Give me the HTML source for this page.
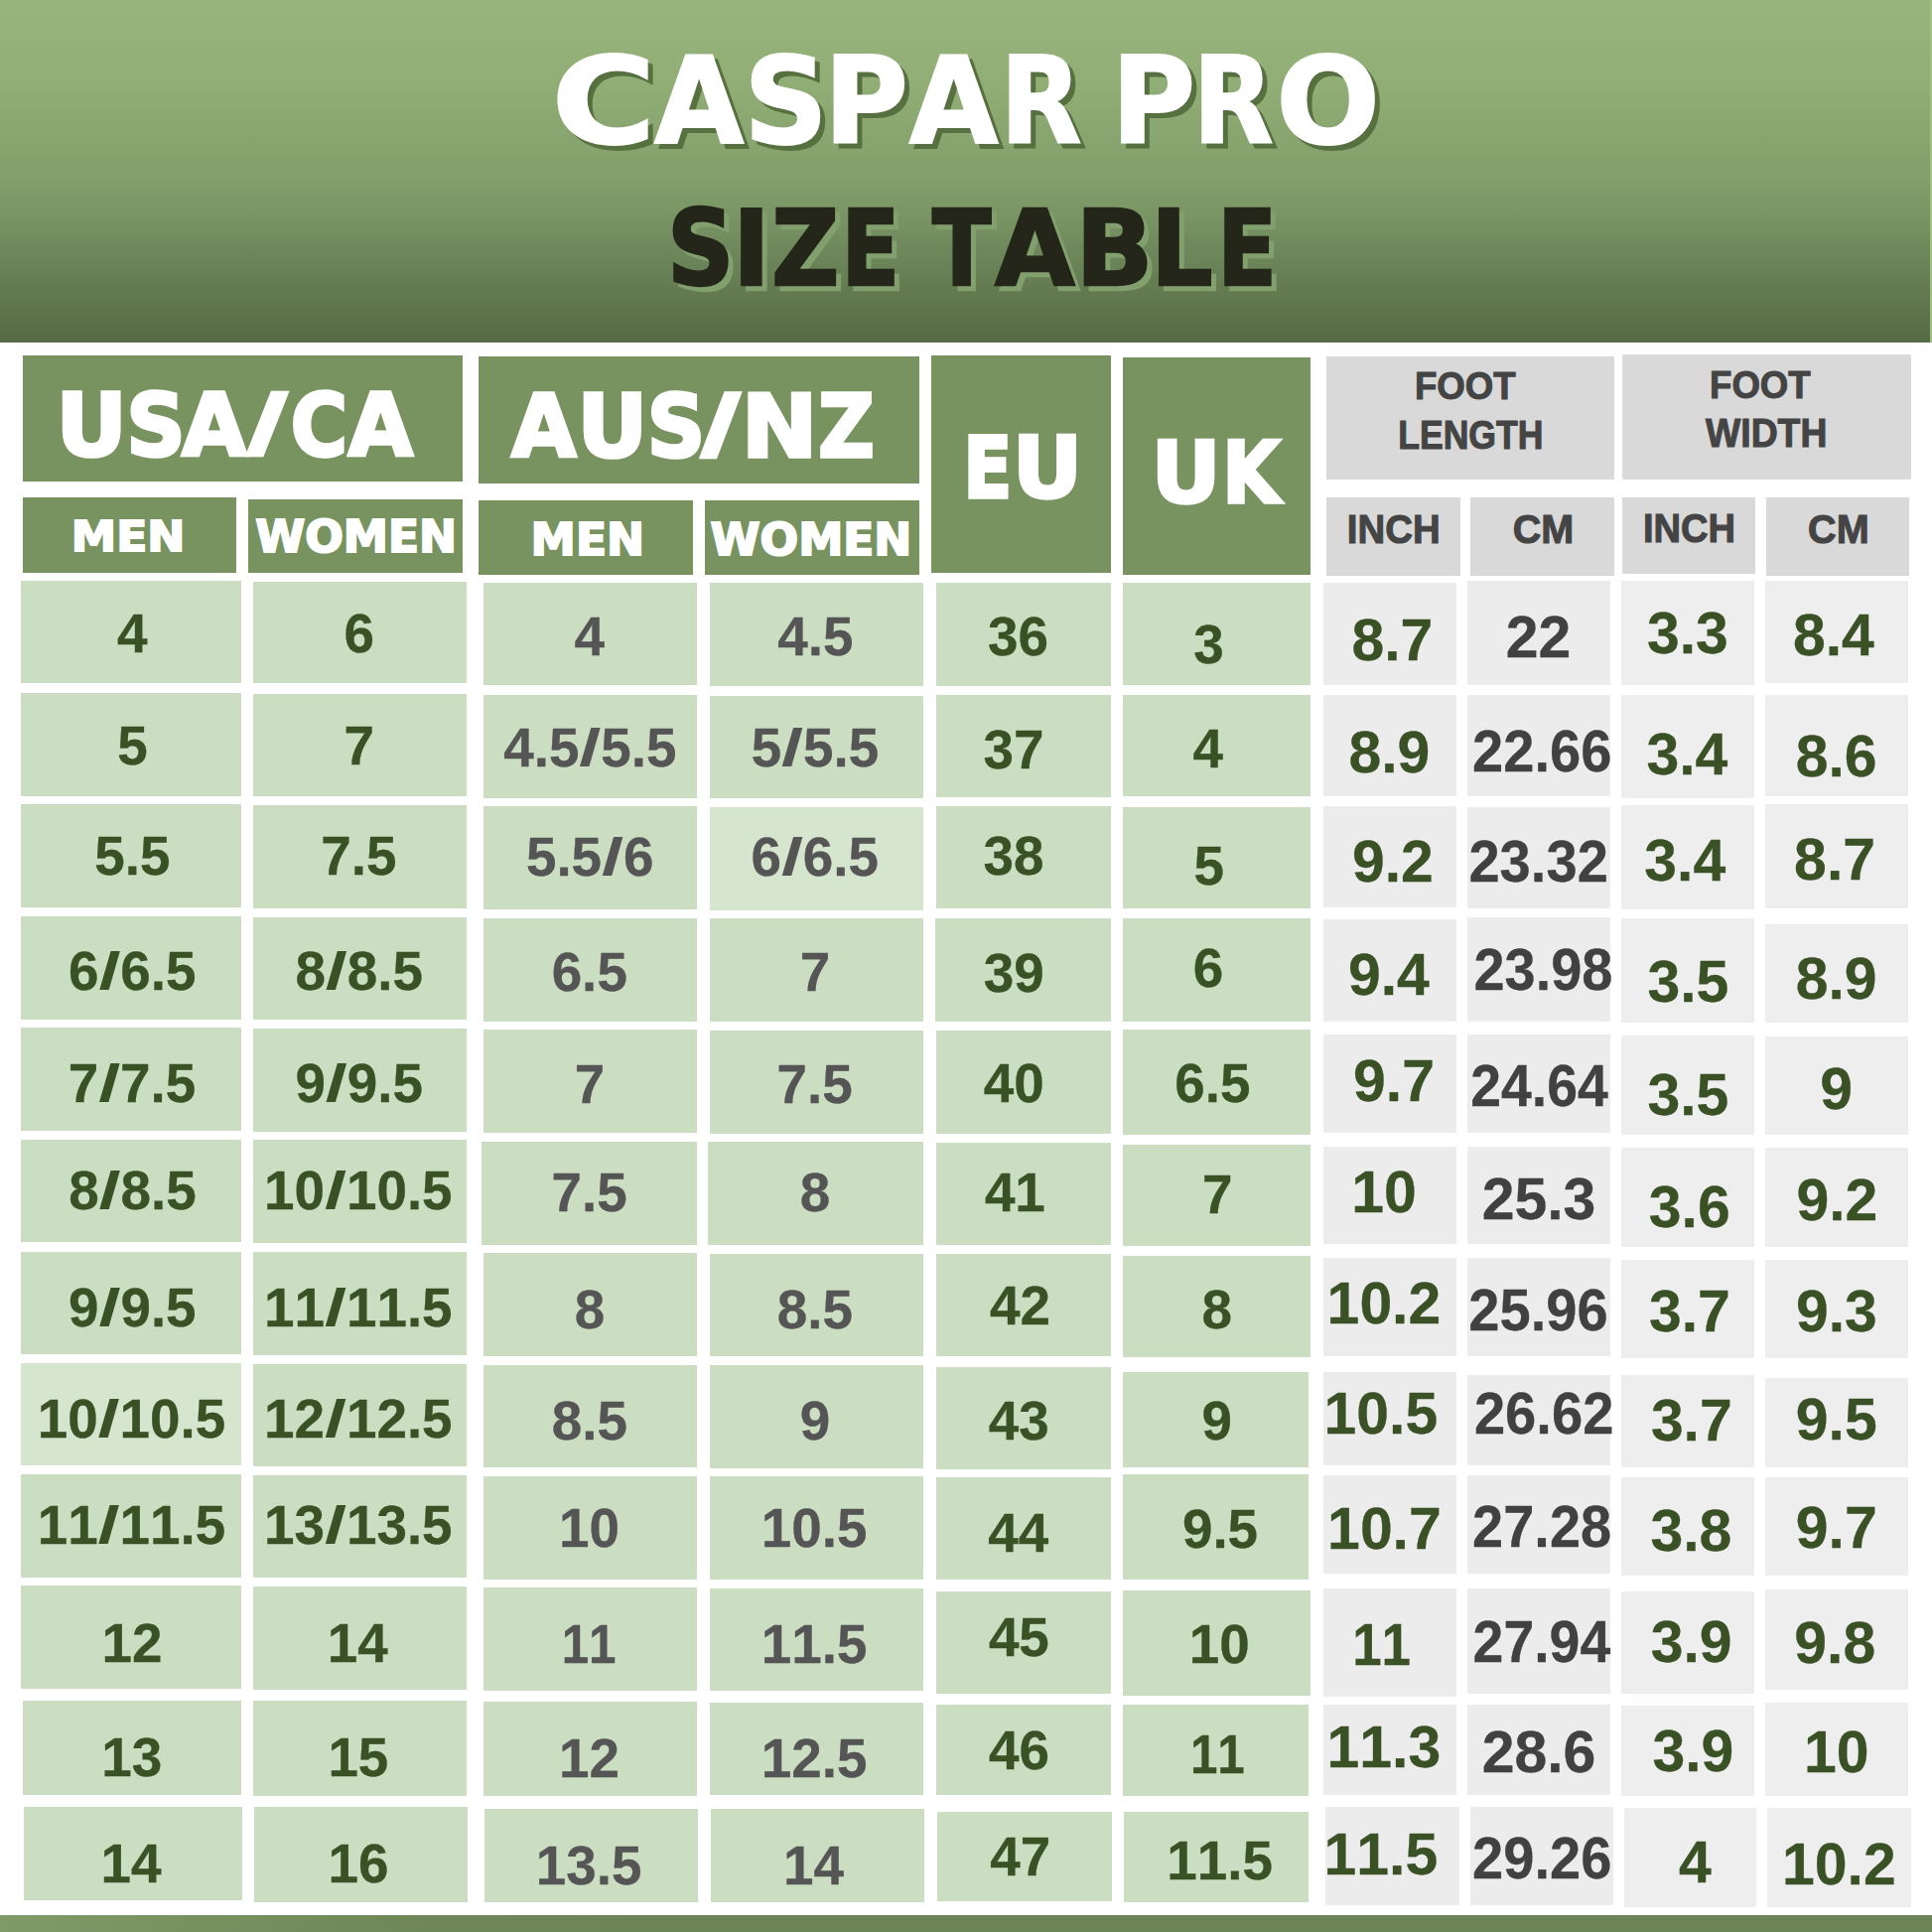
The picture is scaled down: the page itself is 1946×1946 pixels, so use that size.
<!DOCTYPE html>
<html lang="en">
<head>
<meta charset="utf-8">
<title>Caspar Pro Size Table</title>
<style>
html,body{margin:0;padding:0;background:#fff;}
body{width:1946px;height:1946px;overflow:hidden;}
#page{position:relative;width:1946px;height:1946px;background:#fff;overflow:hidden;
 font-family:"Liberation Sans",sans-serif;font-weight:700;}
#topbg{position:absolute;left:0;top:0;width:1946px;height:344.5px;background:#a2c083;}
#top{position:absolute;left:0;top:0;width:1944px;height:344.5px;
 background:linear-gradient(180deg,#97b57c 0%,#90ad75 26%,#84a06c 49%,#7a9665 62%,#6c8559 75%,#62784e 87%,#566a44 100%);}
#bot{position:absolute;left:0;top:1929.3px;width:1946px;height:17px;background:linear-gradient(90deg,#7f9b68 0,#77915f 10%,#6f8758 22%,#6c8456 35%,#6c8456 100%);}
.b{position:absolute;}
.dg{background:#78935f;}
.gh{background:#d9d9d9;}
.lg{background:#ccdec2;}
.lg2{background:#d6e5cd;}
.gc{background:#ececec;}
.gc2{background:#eeeeee;}
svg{position:absolute;left:0;top:0;}
svg text{font-family:"Liberation Sans",sans-serif;font-weight:700;font-kerning:none;white-space:pre;}
svg text.sh1{filter:drop-shadow(5.6px 5.6px 0 #57703f);}
svg text.sh2{filter:drop-shadow(5px 5px 0 #82a06e);}
svg text.dj{font-family:"DejaVu Sans","Liberation Sans",sans-serif;}
</style>
</head>
<body>
<div id="page">
<div id="topbg"></div>
<div id="top"></div>
<div class="b dg" style="left:22.8px;top:357.6px;width:443.6px;height:127.4px"></div>
<div class="b dg" style="left:482.2px;top:359.4px;width:443.8px;height:127.3px"></div>
<div class="b dg" style="left:22.8px;top:501.2px;width:215.6px;height:75.6px"></div>
<div class="b dg" style="left:250.3px;top:502.5px;width:216.1px;height:74.8px"></div>
<div class="b dg" style="left:482.2px;top:503.6px;width:215.5px;height:75.0px"></div>
<div class="b dg" style="left:710.2px;top:504.3px;width:215.8px;height:74.8px"></div>
<div class="b dg" style="left:937.7px;top:357.6px;width:181.1px;height:219.7px"></div>
<div class="b dg" style="left:1131.4px;top:360.2px;width:188.4px;height:219.2px"></div>
<div class="b gh" style="left:1336.2px;top:358.8px;width:290.0px;height:123.8px"></div>
<div class="b gh" style="left:1633.6px;top:357.2px;width:291.0px;height:125.4px;border-radius:2px"></div>
<div class="b gh" style="left:1336.2px;top:501.0px;width:134.5px;height:78.8px"></div>
<div class="b gh" style="left:1481.4px;top:501.0px;width:144.5px;height:79.4px"></div>
<div class="b gh" style="left:1634.3px;top:501.0px;width:134.1px;height:76.5px"></div>
<div class="b gh" style="left:1779.1px;top:501.0px;width:144.2px;height:78.8px"></div>
<div class="b lg" style="left:21.2px;top:584.7px;width:221.8px;height:103.3px"></div>
<div class="b lg" style="left:21.2px;top:698.0px;width:221.8px;height:103.7px"></div>
<div class="b lg" style="left:21.2px;top:810.4px;width:221.8px;height:104.0px"></div>
<div class="b lg" style="left:21.2px;top:923.0px;width:221.8px;height:103.7px"></div>
<div class="b lg" style="left:21.2px;top:1035.4px;width:221.8px;height:103.6px"></div>
<div class="b lg" style="left:21.2px;top:1147.8px;width:221.8px;height:103.6px"></div>
<div class="b lg" style="left:21.2px;top:1260.5px;width:221.8px;height:103.3px"></div>
<div class="b lg2" style="left:21.2px;top:1372.8px;width:221.8px;height:103.2px"></div>
<div class="b lg" style="left:21.2px;top:1485.0px;width:221.8px;height:104.0px"></div>
<div class="b lg" style="left:21.2px;top:1597.4px;width:221.8px;height:104.0px"></div>
<div class="b lg" style="left:22.5px;top:1712.7px;width:220.5px;height:95.3px"></div>
<div class="b lg" style="left:23.5px;top:1820.3px;width:220.0px;height:94.2px"></div>
<div class="b lg" style="left:255.0px;top:585.5px;width:215.4px;height:102.9px"></div>
<div class="b lg" style="left:255.0px;top:698.5px;width:215.4px;height:103.8px"></div>
<div class="b lg" style="left:255.0px;top:811.0px;width:215.4px;height:104.0px"></div>
<div class="b lg" style="left:255.0px;top:923.5px;width:215.4px;height:103.8px"></div>
<div class="b lg" style="left:255.0px;top:1036.0px;width:215.4px;height:103.6px"></div>
<div class="b lg" style="left:255.0px;top:1148.3px;width:215.4px;height:103.7px"></div>
<div class="b lg" style="left:255.0px;top:1261.0px;width:215.4px;height:103.5px"></div>
<div class="b lg" style="left:255.0px;top:1373.5px;width:215.4px;height:103.3px"></div>
<div class="b lg" style="left:255.0px;top:1485.9px;width:215.4px;height:103.6px"></div>
<div class="b lg" style="left:255.0px;top:1598.0px;width:215.4px;height:103.8px"></div>
<div class="b lg" style="left:255.0px;top:1713.4px;width:215.4px;height:95.6px"></div>
<div class="b lg" style="left:255.8px;top:1820.3px;width:215.2px;height:96.0px"></div>
<div class="b lg" style="left:487.2px;top:586.5px;width:214.8px;height:103.5px"></div>
<div class="b lg" style="left:487.2px;top:700.0px;width:214.8px;height:103.5px"></div>
<div class="b lg" style="left:487.2px;top:812.2px;width:214.8px;height:104.0px"></div>
<div class="b lg" style="left:487.2px;top:925.0px;width:214.8px;height:103.6px"></div>
<div class="b lg" style="left:487.2px;top:1037.2px;width:214.8px;height:103.8px"></div>
<div class="b lg" style="left:484.6px;top:1149.6px;width:217.4px;height:104.4px"></div>
<div class="b lg" style="left:487.2px;top:1262.3px;width:214.8px;height:103.3px"></div>
<div class="b lg" style="left:487.2px;top:1374.6px;width:214.8px;height:103.6px"></div>
<div class="b lg" style="left:487.2px;top:1487.0px;width:214.8px;height:104.0px"></div>
<div class="b lg" style="left:487.2px;top:1599.3px;width:214.8px;height:103.9px"></div>
<div class="b lg" style="left:487.2px;top:1714.0px;width:214.8px;height:95.4px"></div>
<div class="b lg" style="left:488.0px;top:1822.0px;width:215.0px;height:94.3px"></div>
<div class="b lg" style="left:714.7px;top:587.2px;width:215.6px;height:103.8px"></div>
<div class="b lg" style="left:714.7px;top:700.6px;width:215.6px;height:103.4px"></div>
<div class="b lg2" style="left:714.7px;top:813.0px;width:215.6px;height:103.6px"></div>
<div class="b lg" style="left:714.7px;top:925.3px;width:215.6px;height:104.0px"></div>
<div class="b lg" style="left:714.7px;top:1037.6px;width:215.6px;height:104.0px"></div>
<div class="b lg" style="left:712.5px;top:1150.3px;width:217.8px;height:103.7px"></div>
<div class="b lg" style="left:714.7px;top:1262.5px;width:215.6px;height:103.8px"></div>
<div class="b lg" style="left:714.7px;top:1375.0px;width:215.6px;height:103.5px"></div>
<div class="b lg" style="left:714.7px;top:1487.3px;width:215.6px;height:104.0px"></div>
<div class="b lg" style="left:714.7px;top:1599.6px;width:215.6px;height:103.9px"></div>
<div class="b lg" style="left:714.7px;top:1714.8px;width:215.6px;height:92.8px"></div>
<div class="b lg" style="left:715.8px;top:1822.0px;width:215.2px;height:93.6px"></div>
<div class="b lg" style="left:942.8px;top:586.5px;width:176.2px;height:104.0px"></div>
<div class="b lg" style="left:942.8px;top:700.3px;width:176.2px;height:103.2px"></div>
<div class="b lg" style="left:942.8px;top:812.2px;width:176.2px;height:103.3px"></div>
<div class="b lg" style="left:941.7px;top:925.3px;width:177.3px;height:104.0px"></div>
<div class="b lg" style="left:942.8px;top:1038.0px;width:176.2px;height:103.6px"></div>
<div class="b lg" style="left:942.8px;top:1150.6px;width:176.2px;height:103.4px"></div>
<div class="b lg" style="left:942.8px;top:1263.0px;width:176.2px;height:103.3px"></div>
<div class="b lg" style="left:942.8px;top:1377.2px;width:176.2px;height:103.2px"></div>
<div class="b lg" style="left:942.8px;top:1487.7px;width:176.2px;height:103.3px"></div>
<div class="b lg" style="left:942.8px;top:1602.9px;width:176.2px;height:103.1px"></div>
<div class="b lg" style="left:942.8px;top:1717.0px;width:176.2px;height:90.6px"></div>
<div class="b lg" style="left:943.5px;top:1824.6px;width:176.1px;height:90.4px"></div>
<div class="b lg" style="left:1131.2px;top:586.8px;width:188.4px;height:103.7px"></div>
<div class="b lg" style="left:1131.2px;top:700.3px;width:188.4px;height:101.7px"></div>
<div class="b lg" style="left:1131.2px;top:812.6px;width:188.4px;height:102.2px"></div>
<div class="b lg" style="left:1131.2px;top:925.3px;width:188.4px;height:104.0px"></div>
<div class="b lg" style="left:1131.2px;top:1037.2px;width:188.4px;height:106.2px"></div>
<div class="b lg" style="left:1131.2px;top:1152.5px;width:188.4px;height:102.1px"></div>
<div class="b lg" style="left:1131.2px;top:1265.0px;width:188.4px;height:102.4px"></div>
<div class="b lg" style="left:1131.2px;top:1381.9px;width:186.6px;height:96.0px"></div>
<div class="b lg" style="left:1131.2px;top:1485.0px;width:186.6px;height:106.0px"></div>
<div class="b lg" style="left:1131.2px;top:1602.0px;width:188.4px;height:106.0px"></div>
<div class="b lg" style="left:1131.2px;top:1717.0px;width:186.6px;height:91.7px"></div>
<div class="b lg" style="left:1132.3px;top:1824.6px;width:185.5px;height:91.7px"></div>
<div class="b gc" style="left:1333.0px;top:586.8px;width:134.1px;height:103.7px"></div>
<div class="b gc" style="left:1333.0px;top:699.6px;width:134.1px;height:102.4px"></div>
<div class="b gc" style="left:1333.0px;top:812.2px;width:134.1px;height:102.2px"></div>
<div class="b gc" style="left:1333.0px;top:926.0px;width:134.1px;height:102.6px"></div>
<div class="b gc" style="left:1333.0px;top:1042.0px;width:134.1px;height:99.0px"></div>
<div class="b gc" style="left:1333.0px;top:1155.0px;width:134.1px;height:98.2px"></div>
<div class="b gc" style="left:1333.0px;top:1266.7px;width:134.1px;height:98.9px"></div>
<div class="b gc" style="left:1333.0px;top:1381.9px;width:134.1px;height:94.1px"></div>
<div class="b gc" style="left:1333.0px;top:1486.2px;width:134.1px;height:99.3px"></div>
<div class="b gc" style="left:1333.0px;top:1600.3px;width:134.1px;height:108.4px"></div>
<div class="b gc" style="left:1333.0px;top:1717.0px;width:134.1px;height:90.6px"></div>
<div class="b gc" style="left:1335.2px;top:1820.3px;width:134.4px;height:98.9px"></div>
<div class="b gc" style="left:1478.0px;top:584.7px;width:144.2px;height:105.8px"></div>
<div class="b gc" style="left:1478.0px;top:700.0px;width:144.2px;height:102.0px"></div>
<div class="b gc" style="left:1478.0px;top:813.0px;width:144.2px;height:102.0px"></div>
<div class="b gc" style="left:1478.0px;top:923.5px;width:144.2px;height:105.1px"></div>
<div class="b gc" style="left:1478.0px;top:1042.0px;width:144.2px;height:99.0px"></div>
<div class="b gc" style="left:1478.0px;top:1155.0px;width:144.2px;height:98.2px"></div>
<div class="b gc" style="left:1478.0px;top:1266.7px;width:144.2px;height:98.9px"></div>
<div class="b gc" style="left:1478.0px;top:1384.8px;width:144.2px;height:91.2px"></div>
<div class="b gc" style="left:1478.0px;top:1486.2px;width:144.2px;height:99.3px"></div>
<div class="b gc" style="left:1478.0px;top:1600.3px;width:144.2px;height:105.7px"></div>
<div class="b gc" style="left:1478.0px;top:1717.0px;width:144.2px;height:90.6px"></div>
<div class="b gc" style="left:1480.5px;top:1820.3px;width:144.5px;height:98.9px"></div>
<div class="b gc2" style="left:1632.7px;top:584.7px;width:134.0px;height:105.8px"></div>
<div class="b gc2" style="left:1632.7px;top:700.3px;width:134.0px;height:103.7px"></div>
<div class="b gc2" style="left:1632.7px;top:810.8px;width:134.0px;height:105.4px"></div>
<div class="b gc2" style="left:1632.7px;top:925.3px;width:134.0px;height:104.7px"></div>
<div class="b gc2" style="left:1632.7px;top:1043.0px;width:134.0px;height:99.7px"></div>
<div class="b gc2" style="left:1632.7px;top:1156.0px;width:134.0px;height:99.7px"></div>
<div class="b gc2" style="left:1632.7px;top:1268.5px;width:134.0px;height:99.2px"></div>
<div class="b gc2" style="left:1632.7px;top:1384.8px;width:134.0px;height:93.1px"></div>
<div class="b gc2" style="left:1632.7px;top:1487.7px;width:134.0px;height:98.9px"></div>
<div class="b gc2" style="left:1632.7px;top:1602.9px;width:134.0px;height:103.1px"></div>
<div class="b gc2" style="left:1632.7px;top:1717.7px;width:134.0px;height:91.7px"></div>
<div class="b gc2" style="left:1636.0px;top:1821.4px;width:133.3px;height:99.2px"></div>
<div class="b gc2" style="left:1777.6px;top:584.7px;width:144.6px;height:103.6px"></div>
<div class="b gc2" style="left:1777.6px;top:700.0px;width:144.6px;height:102.0px"></div>
<div class="b gc2" style="left:1777.6px;top:810.4px;width:144.6px;height:104.6px"></div>
<div class="b gc2" style="left:1777.6px;top:930.7px;width:144.6px;height:99.3px"></div>
<div class="b gc2" style="left:1777.6px;top:1043.8px;width:144.6px;height:98.9px"></div>
<div class="b gc2" style="left:1777.6px;top:1156.0px;width:144.6px;height:99.7px"></div>
<div class="b gc2" style="left:1777.6px;top:1268.5px;width:144.6px;height:99.2px"></div>
<div class="b gc2" style="left:1777.6px;top:1388.4px;width:144.6px;height:89.5px"></div>
<div class="b gc2" style="left:1777.6px;top:1487.7px;width:144.6px;height:98.9px"></div>
<div class="b gc2" style="left:1777.6px;top:1601.0px;width:144.6px;height:100.8px"></div>
<div class="b gc2" style="left:1777.6px;top:1714.5px;width:144.6px;height:94.9px"></div>
<div class="b gc2" style="left:1780.0px;top:1821.4px;width:145.0px;height:99.2px"></div>
<div id="bot"></div>
<svg width="1946" height="1946" viewBox="0 0 1946 1946">
<g id="title1">
<text class="dj sh1" font-size="121.54" fill="#ffffff" stroke="#ffffff" stroke-width="2.0" stroke-linejoin="miter"><tspan x="555.47" y="143.70" textLength="105.09" lengthAdjust="spacingAndGlyphs">C</tspan><tspan x="658.93" y="143.70" textLength="90.24" lengthAdjust="spacingAndGlyphs">A</tspan><tspan x="749.26" y="143.70" textLength="84.64" lengthAdjust="spacingAndGlyphs">S</tspan><tspan x="830.07" y="143.70" textLength="84.88" lengthAdjust="spacingAndGlyphs">P</tspan><tspan x="915.73" y="143.70" textLength="89.73" lengthAdjust="spacingAndGlyphs">A</tspan><tspan x="1007.52" y="143.70" textLength="82.01" lengthAdjust="spacingAndGlyphs">R</tspan> <tspan x="1119.60" y="143.70" textLength="84.64" lengthAdjust="spacingAndGlyphs">P</tspan><tspan x="1201.44" y="143.70" textLength="81.07" lengthAdjust="spacingAndGlyphs">R</tspan><tspan x="1285.36" y="143.70" textLength="104.73" lengthAdjust="spacingAndGlyphs">O</tspan></text>
</g>
<g id="title2">
<text class="dj sh2" font-size="105.76" fill="#232618" stroke="#232618" stroke-width="2.5" stroke-linejoin="miter"><tspan x="671.94" y="286.55" textLength="67.36" lengthAdjust="spacingAndGlyphs">S</tspan><tspan x="738.02" y="286.55" textLength="37.80" lengthAdjust="spacingAndGlyphs">I</tspan><tspan x="777.14" y="286.55" textLength="68.03" lengthAdjust="spacingAndGlyphs">Z</tspan><tspan x="847.48" y="286.55" textLength="58.54" lengthAdjust="spacingAndGlyphs">E</tspan> <tspan x="938.92" y="286.55" textLength="59.39" lengthAdjust="spacingAndGlyphs">T</tspan><tspan x="1002.34" y="286.55" textLength="80.21" lengthAdjust="spacingAndGlyphs">A</tspan><tspan x="1083.56" y="286.55" textLength="77.99" lengthAdjust="spacingAndGlyphs">B</tspan><tspan x="1159.18" y="286.55" textLength="62.24" lengthAdjust="spacingAndGlyphs">L</tspan><tspan x="1226.32" y="286.55" textLength="59.73" lengthAdjust="spacingAndGlyphs">E</tspan></text>
</g>
<g id="labels">
<text class="dj" font-size="86.69" fill="#ffffff" stroke="#ffffff" stroke-width="3.5" stroke-linejoin="miter"><tspan x="56.59" y="458.55" textLength="71.33" lengthAdjust="spacingAndGlyphs">U</tspan><tspan x="127.32" y="458.55" textLength="59.48" lengthAdjust="spacingAndGlyphs">S</tspan><tspan x="183.34" y="458.55" textLength="65.32" lengthAdjust="spacingAndGlyphs">A</tspan><tspan x="252.25" y="450.25" textLength="33.80" lengthAdjust="spacingAndGlyphs" font-size="73.26" stroke-width="6.5">/</tspan><tspan x="292.87" y="458.55" textLength="57.16" lengthAdjust="spacingAndGlyphs">C</tspan><tspan x="350.74" y="458.55" textLength="65.12" lengthAdjust="spacingAndGlyphs">A</tspan></text>
<text class="dj" font-size="87.52" fill="#ffffff" stroke="#ffffff" stroke-width="3.5" stroke-linejoin="miter"><tspan x="515.34" y="460.45" textLength="65.12" lengthAdjust="spacingAndGlyphs">A</tspan><tspan x="581.56" y="460.45" textLength="70.68" lengthAdjust="spacingAndGlyphs">U</tspan><tspan x="651.72" y="460.45" textLength="58.47" lengthAdjust="spacingAndGlyphs">S</tspan><tspan x="709.25" y="452.09" textLength="33.10" lengthAdjust="spacingAndGlyphs" font-size="73.99" stroke-width="6.5">/</tspan><tspan x="746.73" y="460.45" textLength="76.73" lengthAdjust="spacingAndGlyphs">N</tspan><tspan x="824.15" y="460.45" textLength="56.50" lengthAdjust="spacingAndGlyphs">Z</tspan></text>
<text transform="matrix(0.4555 0 0 0.4335 71.82 555.10)" class="dj" font-size="100" fill="#ffffff" stroke="#ffffff" stroke-width="2.0" vector-effect="non-scaling-stroke" stroke-linejoin="miter">MEN</text>
<text transform="matrix(0.4539 0 0 0.4390 257.15 556.00)" class="dj" font-size="100" fill="#ffffff" stroke="#ffffff" stroke-width="2.0" vector-effect="non-scaling-stroke" stroke-linejoin="miter">WOMEN</text>
<text transform="matrix(0.4555 0 0 0.4458 534.62 558.50)" class="dj" font-size="100" fill="#ffffff" stroke="#ffffff" stroke-width="2.0" vector-effect="non-scaling-stroke" stroke-linejoin="miter">MEN</text>
<text transform="matrix(0.4537 0 0 0.4458 715.55 558.50)" class="dj" font-size="100" fill="#ffffff" stroke="#ffffff" stroke-width="2.0" vector-effect="non-scaling-stroke" stroke-linejoin="miter">WOMEN</text>
<text class="dj" font-size="86.01" fill="#ffffff" stroke="#ffffff" stroke-width="3.5" stroke-linejoin="miter"><tspan x="970.26" y="500.75" textLength="49.05" lengthAdjust="spacingAndGlyphs">E</tspan><tspan x="1019.93" y="500.75" textLength="70.03" lengthAdjust="spacingAndGlyphs">U</tspan></text>
<text class="dj" font-size="85.73" fill="#ffffff" stroke="#ffffff" stroke-width="3.5" stroke-linejoin="miter"><tspan x="1159.78" y="506.45" textLength="69.65" lengthAdjust="spacingAndGlyphs">U</tspan><tspan x="1231.18" y="506.45" textLength="58.01" lengthAdjust="spacingAndGlyphs">K</tspan></text>
<text transform="matrix(0.3660 0 0 0.3808 1424.95 402.30)" class="lb" font-size="100" fill="#444444" stroke="#444444" stroke-width="1.0" vector-effect="non-scaling-stroke" stroke-linejoin="miter">FOOT</text>
<text transform="matrix(0.3558 0 0 0.4041 1408.22 451.50)" class="lb" font-size="100" fill="#444444" stroke="#444444" stroke-width="1.0" vector-effect="non-scaling-stroke" stroke-linejoin="miter">LENGTH</text>
<text transform="matrix(0.3660 0 0 0.3837 1722.05 400.70)" class="lb" font-size="100" fill="#444444" stroke="#444444" stroke-width="1.0" vector-effect="non-scaling-stroke" stroke-linejoin="miter">FOOT</text>
<text transform="matrix(0.3734 0 0 0.4099 1718.06 450.30)" class="lb" font-size="100" fill="#444444" stroke="#444444" stroke-width="1.0" vector-effect="non-scaling-stroke" stroke-linejoin="miter">WIDTH</text>
<text transform="matrix(0.3840 0 0 0.3997 1356.83 546.90)" class="lb" font-size="100" fill="#444444" stroke="#444444" stroke-width="1.0" vector-effect="non-scaling-stroke" stroke-linejoin="miter">INCH</text>
<text transform="matrix(0.3959 0 0 0.3997 1523.68 546.90)" class="lb" font-size="100" fill="#444444" stroke="#444444" stroke-width="1.0" vector-effect="non-scaling-stroke" stroke-linejoin="miter">CM</text>
<text transform="matrix(0.3814 0 0 0.4099 1654.95 545.90)" class="lb" font-size="100" fill="#444444" stroke="#444444" stroke-width="1.0" vector-effect="non-scaling-stroke" stroke-linejoin="miter">INCH</text>
<text transform="matrix(0.3959 0 0 0.3997 1821.08 546.90)" class="lb" font-size="100" fill="#444444" stroke="#444444" stroke-width="1.0" vector-effect="non-scaling-stroke" stroke-linejoin="miter">CM</text>
<text x="118.0" y="657.4" font-size="54.8" fill="#3a5125" stroke="#3a5125" stroke-width="0.3">4</text>
<text x="118.2" y="770.1" font-size="54.8" fill="#3a5125" stroke="#3a5125" stroke-width="0.3">5</text>
<text x="95.3 125.8 141.0" y="880.6" font-size="54.8" fill="#3a5125" stroke="#3a5125" stroke-width="0.3">5.5</text>
<text x="69.0 102.8 121.3 151.8 167.0" y="996.7 996.7 996.7 996.7 996.7" font-size="54.8" fill="#3a5125" stroke="#3a5125" stroke-width="0.3">6<tspan x="99.4" y="995.8" font-size="51.0" textLength="22.1" lengthAdjust="spacingAndGlyphs" stroke="none">/</tspan>6.5</text>
<text x="68.8 102.6 121.1 151.6 166.8" y="1110.0 1110.0 1110.0 1110.0 1110.0" font-size="54.8" fill="#3a5125" stroke="#3a5125" stroke-width="0.3">7<tspan x="99.2" y="1109.1" font-size="51.0" textLength="22.1" lengthAdjust="spacingAndGlyphs" stroke="none">/</tspan>7.5</text>
<text x="69.2 102.9 121.5 151.9 167.2" y="1217.6 1217.6 1217.6 1217.6 1217.6" font-size="54.8" fill="#3a5125" stroke="#3a5125" stroke-width="0.3">8<tspan x="99.5" y="1216.7" font-size="51.0" textLength="22.1" lengthAdjust="spacingAndGlyphs" stroke="none">/</tspan>8.5</text>
<text x="69.1 102.8 121.4 151.9 167.1" y="1335.8 1335.8 1335.8 1335.8 1335.8" font-size="54.8" fill="#3a5125" stroke="#3a5125" stroke-width="0.3">9<tspan x="99.4" y="1334.9" font-size="51.0" textLength="22.1" lengthAdjust="spacingAndGlyphs" stroke="none">/</tspan>9.5</text>
<text x="37.8 68.3 102.1 120.6 151.1 181.6 196.8" y="1448.1 1448.1 1448.1 1448.1 1448.1 1448.1 1448.1" font-size="54.8" fill="#3a5125" stroke="#3a5125" stroke-width="0.3">10<tspan x="98.6" y="1447.2" font-size="51.0" textLength="22.1" lengthAdjust="spacingAndGlyphs" stroke="none">/</tspan>10.5</text>
<text x="37.8 68.3 102.1 120.6 151.1 181.6 196.8" y="1555.0 1555.0 1555.0 1555.0 1555.0 1555.0 1555.0" font-size="54.8" fill="#3a5125" stroke="#3a5125" stroke-width="0.3">11<tspan x="98.6" y="1554.1" font-size="51.0" textLength="22.1" lengthAdjust="spacingAndGlyphs" stroke="none">/</tspan>11.5</text>
<text x="102.4 132.9" y="1673.6" font-size="54.8" fill="#3a5125" stroke="#3a5125" stroke-width="0.3">12</text>
<text x="102.3 132.8" y="1788.7" font-size="54.8" fill="#3a5125" stroke="#3a5125" stroke-width="0.3">13</text>
<text x="101.4 131.9" y="1895.5" font-size="54.8" fill="#3a5125" stroke="#3a5125" stroke-width="0.3">14</text>
<text x="346.5" y="657.4" font-size="54.8" fill="#3a5125" stroke="#3a5125" stroke-width="0.3">6</text>
<text x="346.6" y="770.1" font-size="54.8" fill="#3a5125" stroke="#3a5125" stroke-width="0.3">7</text>
<text x="323.3 353.8 369.0" y="880.6" font-size="54.8" fill="#3a5125" stroke="#3a5125" stroke-width="0.3">7.5</text>
<text x="297.5 331.2 349.8 380.2 395.5" y="996.7 996.7 996.7 996.7 996.7" font-size="54.8" fill="#3a5125" stroke="#3a5125" stroke-width="0.3">8<tspan x="327.8" y="995.8" font-size="51.0" textLength="22.1" lengthAdjust="spacingAndGlyphs" stroke="none">/</tspan>8.5</text>
<text x="297.4 331.1 349.7 380.2 395.4" y="1110.0 1110.0 1110.0 1110.0 1110.0" font-size="54.8" fill="#3a5125" stroke="#3a5125" stroke-width="0.3">9<tspan x="327.7" y="1109.1" font-size="51.0" textLength="22.1" lengthAdjust="spacingAndGlyphs" stroke="none">/</tspan>9.5</text>
<text x="266.1 296.6 330.4 348.9 379.4 409.9 425.1" y="1217.6 1217.6 1217.6 1217.6 1217.6 1217.6 1217.6" font-size="54.8" fill="#3a5125" stroke="#3a5125" stroke-width="0.3">10<tspan x="326.9" y="1216.7" font-size="51.0" textLength="22.1" lengthAdjust="spacingAndGlyphs" stroke="none">/</tspan>10.5</text>
<text x="266.1 296.6 330.4 348.9 379.4 409.9 425.1" y="1335.8 1335.8 1335.8 1335.8 1335.8 1335.8 1335.8" font-size="54.8" fill="#3a5125" stroke="#3a5125" stroke-width="0.3">11<tspan x="326.9" y="1334.9" font-size="51.0" textLength="22.1" lengthAdjust="spacingAndGlyphs" stroke="none">/</tspan>11.5</text>
<text x="266.1 296.6 330.4 348.9 379.4 409.9 425.1" y="1448.1 1448.1 1448.1 1448.1 1448.1 1448.1 1448.1" font-size="54.8" fill="#3a5125" stroke="#3a5125" stroke-width="0.3">12<tspan x="326.9" y="1447.2" font-size="51.0" textLength="22.1" lengthAdjust="spacingAndGlyphs" stroke="none">/</tspan>12.5</text>
<text x="266.1 296.6 330.4 348.9 379.4 409.9 425.1" y="1555.0 1555.0 1555.0 1555.0 1555.0 1555.0 1555.0" font-size="54.8" fill="#3a5125" stroke="#3a5125" stroke-width="0.3">13<tspan x="326.9" y="1554.1" font-size="51.0" textLength="22.1" lengthAdjust="spacingAndGlyphs" stroke="none">/</tspan>13.5</text>
<text x="329.7 360.2" y="1673.6" font-size="54.8" fill="#3a5125" stroke="#3a5125" stroke-width="0.3">14</text>
<text x="330.4 360.8" y="1788.7" font-size="54.8" fill="#3a5125" stroke="#3a5125" stroke-width="0.3">15</text>
<text x="330.6 361.1" y="1895.5" font-size="54.8" fill="#3a5125" stroke="#3a5125" stroke-width="0.3">16</text>
<text x="578.5" y="659.8" font-size="54.8" fill="#555555" stroke="#555555" stroke-width="0.3">4</text>
<text x="507.3 537.7 553.0 586.7 605.3 635.7 651.0" y="772.3 772.3 772.3 772.3 772.3 772.3 772.3" font-size="54.8" fill="#555555" stroke="#555555" stroke-width="0.3">4.5<tspan x="583.3" y="771.4" font-size="51.0" textLength="22.1" lengthAdjust="spacingAndGlyphs" stroke="none">/</tspan>5.5</text>
<text x="529.9 560.4 575.6 609.4 627.9" y="881.7 881.7 881.7 881.7 881.7" font-size="54.8" fill="#555555" stroke="#555555" stroke-width="0.3">5.5<tspan x="605.9" y="880.8" font-size="51.0" textLength="22.1" lengthAdjust="spacingAndGlyphs" stroke="none">/</tspan>6</text>
<text x="555.7 586.1 601.4" y="998.4" font-size="54.8" fill="#555555" stroke="#555555" stroke-width="0.3">6.5</text>
<text x="578.8" y="1110.9" font-size="54.8" fill="#555555" stroke="#555555" stroke-width="0.3">7</text>
<text x="555.5 586.0 601.2" y="1219.6" font-size="54.8" fill="#555555" stroke="#555555" stroke-width="0.3">7.5</text>
<text x="578.7" y="1338.3" font-size="54.8" fill="#555555" stroke="#555555" stroke-width="0.3">8</text>
<text x="555.8 586.3 601.5" y="1450.2" font-size="54.8" fill="#555555" stroke="#555555" stroke-width="0.3">8.5</text>
<text x="562.9 593.4" y="1557.5" font-size="54.8" fill="#555555" stroke="#555555" stroke-width="0.3">10</text>
<text x="562.6 593.0" y="1675.2" font-size="54.8" fill="#555555" stroke="#555555" stroke-width="0.3" transform="translate(594.0 0) scale(0.9009 1) translate(-594.0 0)">11</text>
<text x="562.9 593.4" y="1790.1" font-size="54.8" fill="#555555" stroke="#555555" stroke-width="0.3">12</text>
<text x="539.7 570.2 600.7 615.9" y="1897.7" font-size="54.8" fill="#555555" stroke="#555555" stroke-width="0.3">13.5</text>
<text x="783.3 813.7 829.0" y="659.8" font-size="54.8" fill="#555555" stroke="#555555" stroke-width="0.3">4.5</text>
<text x="756.7 790.5 809.0 839.5 854.7" y="772.3 772.3 772.3 772.3 772.3" font-size="54.8" fill="#555555" stroke="#555555" stroke-width="0.3">5<tspan x="787.0" y="771.4" font-size="51.0" textLength="22.1" lengthAdjust="spacingAndGlyphs" stroke="none">/</tspan>5.5</text>
<text x="756.5 790.3 808.8 839.3 854.5" y="881.7 881.7 881.7 881.7 881.7" font-size="54.8" fill="#555555" stroke="#555555" stroke-width="0.3">6<tspan x="786.9" y="880.8" font-size="51.0" textLength="22.1" lengthAdjust="spacingAndGlyphs" stroke="none">/</tspan>6.5</text>
<text x="805.8" y="998.4" font-size="54.8" fill="#555555" stroke="#555555" stroke-width="0.3">7</text>
<text x="782.5 813.0 828.2" y="1110.9" font-size="54.8" fill="#555555" stroke="#555555" stroke-width="0.3">7.5</text>
<text x="805.7" y="1219.6" font-size="54.8" fill="#555555" stroke="#555555" stroke-width="0.3">8</text>
<text x="782.8 813.3 828.5" y="1338.3" font-size="54.8" fill="#555555" stroke="#555555" stroke-width="0.3">8.5</text>
<text x="805.8" y="1450.2" font-size="54.8" fill="#555555" stroke="#555555" stroke-width="0.3">9</text>
<text x="766.7 797.2 827.7 842.9" y="1557.5" font-size="54.8" fill="#555555" stroke="#555555" stroke-width="0.3">10.5</text>
<text x="766.7 797.2 827.7 842.9" y="1675.2" font-size="54.8" fill="#555555" stroke="#555555" stroke-width="0.3">11.5</text>
<text x="766.7 797.2 827.7 842.9" y="1790.1" font-size="54.8" fill="#555555" stroke="#555555" stroke-width="0.3">12.5</text>
<text x="788.9 819.4" y="1897.7" font-size="54.8" fill="#555555" stroke="#555555" stroke-width="0.3">14</text>
<text x="994.9 1025.4" y="660.3" font-size="54.8" fill="#3a5125" stroke="#3a5125" stroke-width="0.3">36</text>
<text x="990.5 1021.0" y="773.7" font-size="54.8" fill="#3a5125" stroke="#3a5125" stroke-width="0.3">37</text>
<text x="990.6 1021.1" y="880.6" font-size="54.8" fill="#3a5125" stroke="#3a5125" stroke-width="0.3">38</text>
<text x="990.8 1021.3" y="998.9" font-size="54.8" fill="#3a5125" stroke="#3a5125" stroke-width="0.3">39</text>
<text x="990.7 1021.2" y="1110.0" font-size="54.8" fill="#3a5125" stroke="#3a5125" stroke-width="0.3">40</text>
<text x="991.9 1022.3" y="1219.6" font-size="54.8" fill="#3a5125" stroke="#3a5125" stroke-width="0.3">41</text>
<text x="997.1 1027.6" y="1333.9" font-size="54.8" fill="#3a5125" stroke="#3a5125" stroke-width="0.3">42</text>
<text x="995.7 1026.2" y="1450.2" font-size="54.8" fill="#3a5125" stroke="#3a5125" stroke-width="0.3">43</text>
<text x="995.3 1025.7" y="1563.1" font-size="54.8" fill="#3a5125" stroke="#3a5125" stroke-width="0.3">44</text>
<text x="995.9 1026.3" y="1668.0" font-size="54.8" fill="#3a5125" stroke="#3a5125" stroke-width="0.3">45</text>
<text x="996.1 1026.6" y="1781.8" font-size="54.8" fill="#3a5125" stroke="#3a5125" stroke-width="0.3">46</text>
<text x="997.2 1027.7" y="1889.2" font-size="54.8" fill="#3a5125" stroke="#3a5125" stroke-width="0.3">47</text>
<text x="1202.2" y="667.9" font-size="54.8" fill="#3a5125" stroke="#3a5125" stroke-width="0.3">3</text>
<text x="1201.6" y="773.0" font-size="54.8" fill="#3a5125" stroke="#3a5125" stroke-width="0.3">4</text>
<text x="1202.5" y="890.8" font-size="54.8" fill="#3a5125" stroke="#3a5125" stroke-width="0.3">5</text>
<text x="1201.7" y="994.0" font-size="54.8" fill="#3a5125" stroke="#3a5125" stroke-width="0.3">6</text>
<text x="1183.3 1213.7 1229.0" y="1110.0" font-size="54.8" fill="#3a5125" stroke="#3a5125" stroke-width="0.3">6.5</text>
<text x="1211.0" y="1222.3" font-size="54.8" fill="#3a5125" stroke="#3a5125" stroke-width="0.3">7</text>
<text x="1210.5" y="1338.3" font-size="54.8" fill="#3a5125" stroke="#3a5125" stroke-width="0.3">8</text>
<text x="1210.6" y="1450.2" font-size="54.8" fill="#3a5125" stroke="#3a5125" stroke-width="0.3">9</text>
<text x="1190.9 1221.4 1236.6" y="1559.3" font-size="54.8" fill="#3a5125" stroke="#3a5125" stroke-width="0.3">9.5</text>
<text x="1197.8 1228.3" y="1674.5" font-size="54.8" fill="#3a5125" stroke="#3a5125" stroke-width="0.3">10</text>
<text x="1195.8 1226.2" y="1786.3" font-size="54.8" fill="#3a5125" stroke="#3a5125" stroke-width="0.3" transform="translate(1227.2 0) scale(0.9009 1) translate(-1227.2 0)">11</text>
<text x="1175.3 1205.8 1236.3 1251.5" y="1893.0" font-size="54.8" fill="#3a5125" stroke="#3a5125" stroke-width="0.3">11.5</text>
<text x="1361.5 1394.3 1410.6" y="664.8" font-size="58.9" fill="#3a5125" stroke="#3a5125" stroke-width="0.3">8.7</text>
<text x="1358.5 1391.3 1407.6" y="777.7" font-size="58.9" fill="#3a5125" stroke="#3a5125" stroke-width="0.3">8.9</text>
<text x="1362.0 1394.8 1411.1" y="888.0" font-size="58.9" fill="#3a5125" stroke="#3a5125" stroke-width="0.3">9.2</text>
<text x="1357.9 1390.7 1407.0" y="1002.1" font-size="58.9" fill="#3a5125" stroke="#3a5125" stroke-width="0.3">9.4</text>
<text x="1363.0 1395.8 1412.2" y="1108.7" font-size="58.9" fill="#3a5125" stroke="#3a5125" stroke-width="0.3">9.7</text>
<text x="1361.2 1394.0" y="1221.3" font-size="58.9" fill="#3a5125" stroke="#3a5125" stroke-width="0.3">10</text>
<text x="1336.6 1369.4 1402.1 1418.5" y="1333.0" font-size="58.9" fill="#3a5125" stroke="#3a5125" stroke-width="0.3">10.2</text>
<text x="1333.5 1366.3 1399.1 1415.4" y="1443.7" font-size="58.9" fill="#3a5125" stroke="#3a5125" stroke-width="0.3">10.5</text>
<text x="1337.1 1369.9 1402.6 1419.0" y="1559.8" font-size="58.9" fill="#3a5125" stroke="#3a5125" stroke-width="0.3">10.7</text>
<text x="1358.7 1391.5" y="1676.8" font-size="58.9" fill="#3a5125" stroke="#3a5125" stroke-width="0.3" transform="translate(1392.5 0) scale(0.8980 1) translate(-1392.5 0)">11</text>
<text x="1336.5 1369.2 1402.0 1418.4" y="1779.6" font-size="58.9" fill="#3a5125" stroke="#3a5125" stroke-width="0.3">11.3</text>
<text x="1333.5 1366.3 1399.1 1415.4" y="1888.2" font-size="58.9" fill="#3a5125" stroke="#3a5125" stroke-width="0.3">11.5</text>
<text x="1516.7 1549.5" y="662.3" font-size="58.9" fill="#414141" stroke="#414141" stroke-width="0.3">22</text>
<text x="1479.5 1512.3 1545.1 1561.4 1594.2" y="776.6" font-size="58.9" fill="#414141" stroke="#414141" stroke-width="0.3" transform="translate(1553.2 0) scale(0.9518 1) translate(-1553.2 0)">22.66</text>
<text x="1476.0 1508.7 1541.5 1557.8 1590.6" y="887.6" font-size="58.9" fill="#414141" stroke="#414141" stroke-width="0.3" transform="translate(1549.5 0) scale(0.9533 1) translate(-1549.5 0)">23.32</text>
<text x="1480.8 1513.5 1546.3 1562.7 1595.4" y="996.7" font-size="58.9" fill="#414141" stroke="#414141" stroke-width="0.3" transform="translate(1554.6 0) scale(0.9497 1) translate(-1554.6 0)">23.98</text>
<text x="1476.7 1509.5 1542.3 1558.6 1591.4" y="1114.1" font-size="58.9" fill="#414141" stroke="#414141" stroke-width="0.3" transform="translate(1551.3 0) scale(0.9399 1) translate(-1551.3 0)">24.64</text>
<text x="1492.7 1525.5 1558.2 1574.6" y="1228.2" font-size="58.9" fill="#414141" stroke="#414141" stroke-width="0.3">25.3</text>
<text x="1475.8 1508.6 1541.4 1557.7 1590.5" y="1340.2" font-size="58.9" fill="#414141" stroke="#414141" stroke-width="0.3" transform="translate(1549.5 0) scale(0.9518 1) translate(-1549.5 0)">25.96</text>
<text x="1481.5 1514.2 1547.0 1563.3 1596.1" y="1443.9" font-size="58.9" fill="#414141" stroke="#414141" stroke-width="0.3" transform="translate(1555.0 0) scale(0.9533 1) translate(-1555.0 0)">26.62</text>
<text x="1479.4 1512.1 1544.9 1561.3 1594.0" y="1558.0" font-size="58.9" fill="#414141" stroke="#414141" stroke-width="0.3" transform="translate(1553.2 0) scale(0.9497 1) translate(-1553.2 0)">27.28</text>
<text x="1479.1 1511.9 1544.7 1561.0 1593.8" y="1674.5" font-size="58.9" fill="#414141" stroke="#414141" stroke-width="0.3" transform="translate(1553.7 0) scale(0.9399 1) translate(-1553.7 0)">27.94</text>
<text x="1492.7 1525.5 1558.2 1574.6" y="1785.0" font-size="58.9" fill="#414141" stroke="#414141" stroke-width="0.3">28.6</text>
<text x="1479.5 1512.3 1545.1 1561.4 1594.2" y="1891.9" font-size="58.9" fill="#414141" stroke="#414141" stroke-width="0.3" transform="translate(1553.2 0) scale(0.9518 1) translate(-1553.2 0)">29.26</text>
<text x="1658.9 1691.7 1708.1" y="658.1" font-size="58.9" fill="#3a5125" stroke="#3a5125" stroke-width="0.3">3.3</text>
<text x="1658.4 1691.2 1707.6" y="780.4" font-size="58.9" fill="#3a5125" stroke="#3a5125" stroke-width="0.3">3.4</text>
<text x="1656.2 1689.0 1705.4" y="887.1" font-size="58.9" fill="#3a5125" stroke="#3a5125" stroke-width="0.3">3.4</text>
<text x="1659.5 1692.3 1708.6" y="1008.5" font-size="58.9" fill="#3a5125" stroke="#3a5125" stroke-width="0.3">3.5</text>
<text x="1659.5 1692.3 1708.6" y="1122.8" font-size="58.9" fill="#3a5125" stroke="#3a5125" stroke-width="0.3">3.5</text>
<text x="1660.7 1693.5 1709.9" y="1235.8" font-size="58.9" fill="#3a5125" stroke="#3a5125" stroke-width="0.3">3.6</text>
<text x="1661.0 1693.7 1710.1" y="1341.1" font-size="58.9" fill="#3a5125" stroke="#3a5125" stroke-width="0.3">3.7</text>
<text x="1662.9 1695.6 1712.0" y="1450.7" font-size="58.9" fill="#3a5125" stroke="#3a5125" stroke-width="0.3">3.7</text>
<text x="1662.5 1695.2 1711.6" y="1562.2" font-size="58.9" fill="#3a5125" stroke="#3a5125" stroke-width="0.3">3.8</text>
<text x="1662.7 1695.4 1711.8" y="1673.8" font-size="58.9" fill="#3a5125" stroke="#3a5125" stroke-width="0.3">3.9</text>
<text x="1664.5 1697.2 1713.6" y="1784.3" font-size="58.9" fill="#3a5125" stroke="#3a5125" stroke-width="0.3">3.9</text>
<text x="1691.0" y="1896.0" font-size="58.9" fill="#3a5125" stroke="#3a5125" stroke-width="0.3">4</text>
<text x="1806.0 1838.7 1855.1" y="659.7" font-size="58.9" fill="#3a5125" stroke="#3a5125" stroke-width="0.3">8.4</text>
<text x="1808.7 1841.4 1857.8" y="782.0" font-size="58.9" fill="#3a5125" stroke="#3a5125" stroke-width="0.3">8.6</text>
<text x="1807.1 1839.9 1856.2" y="886.2" font-size="58.9" fill="#3a5125" stroke="#3a5125" stroke-width="0.3">8.7</text>
<text x="1808.7 1841.5 1857.8" y="1005.9" font-size="58.9" fill="#3a5125" stroke="#3a5125" stroke-width="0.3">8.9</text>
<text x="1833.2" y="1117.2" font-size="58.9" fill="#3a5125" stroke="#3a5125" stroke-width="0.3">9</text>
<text x="1809.5 1842.3 1858.6" y="1228.6" font-size="58.9" fill="#3a5125" stroke="#3a5125" stroke-width="0.3">9.2</text>
<text x="1809.0 1841.8 1858.1" y="1341.1" font-size="58.9" fill="#3a5125" stroke="#3a5125" stroke-width="0.3">9.3</text>
<text x="1808.8 1841.5 1857.9" y="1449.8" font-size="58.9" fill="#3a5125" stroke="#3a5125" stroke-width="0.3">9.5</text>
<text x="1808.8 1841.6 1858.0" y="1558.5" font-size="58.9" fill="#3a5125" stroke="#3a5125" stroke-width="0.3">9.7</text>
<text x="1807.3 1840.1 1856.5" y="1674.5" font-size="58.9" fill="#3a5125" stroke="#3a5125" stroke-width="0.3">9.8</text>
<text x="1817.0 1849.8" y="1785.0" font-size="58.9" fill="#3a5125" stroke="#3a5125" stroke-width="0.3">10</text>
<text x="1795.0 1827.8 1860.5 1876.9" y="1897.8" font-size="58.9" fill="#3a5125" stroke="#3a5125" stroke-width="0.3">10.2</text>
</g>
</svg>
</div>
</body>
</html>
